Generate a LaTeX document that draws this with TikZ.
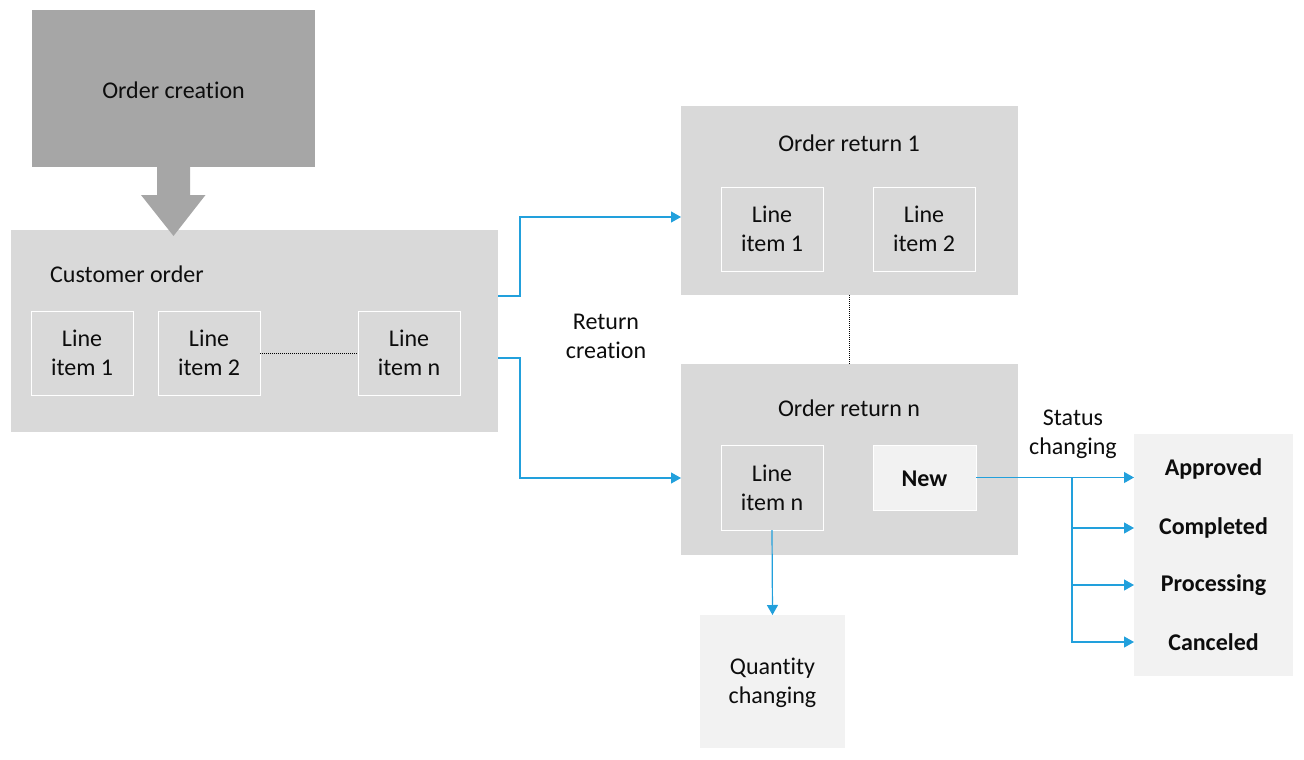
\documentclass[tikz,border=0pt]{standalone}
\usepackage{fontspec}
\setmainfont{Carlito}[Ligatures={NoCommon}]
\usetikzlibrary{arrows.meta,calc}
\definecolor{dgray}{HTML}{A6A6A6}
\definecolor{lgray}{HTML}{D9D9D9}
\definecolor{vlgray}{HTML}{F2F2F2}
\definecolor{cblue}{HTML}{22A0DC}
\definecolor{txt}{HTML}{0D0D0D}
\begin{document}
\begin{tikzpicture}[x=1pt,y=-1pt,
  font=\fontsize{24}{29}\selectfont, text=txt,
  box/.style={anchor=north west,inner sep=0pt,outer sep=0pt,align=center},
  item/.style={box,fill=lgray,draw=white,line width=1pt,minimum width=102,minimum height=84},
  lbl/.style={inner sep=0pt,align=center},
  blbl/.style={lbl,font=\fontsize{24}{29}\selectfont\bfseries},
  conn/.style={draw=cblue,line width=1.2pt,-{Triangle[length=10pt,width=11pt]}},
  dots/.style={draw=black,line width=0.7pt,dash pattern=on 1pt off 1pt}
]
\useasboundingbox (0,0) rectangle (1304,760);
% boxes
\node[box,fill=dgray,minimum width=283,minimum height=157] (oc) at (32,10) {};
\node[lbl] (oct) at (173.5,90) {Order creation};
\node[box,fill=lgray,minimum width=487,minimum height=202] (co) at (11,230) {};
\node[lbl,anchor=west] (cot) at (50,274) {Customer order};
\node[item] (i1) at (31,311) {Line\\item 1};
\node[item] (i2) at (158,311) {Line\\item 2};
\node[item] (in) at (358,311) {Line\\item n};

\node[box,fill=lgray,minimum width=337,minimum height=189] (or1) at (681,106) {};
\node[lbl] (or1t) at (849,143) {Order return 1};
\node[item] (r1a) at (721,187) {Line\\item 1};
\node[item] (r1b) at (873,187) {Line\\item 2};

\node[box,fill=lgray,minimum width=337,minimum height=191] (orn) at (681,364) {};
\node[lbl] (ornt) at (849,408) {Order return n};
\node[item,minimum height=85] (lin) at (721,445) {Line\\item n};
\node[box,fill=vlgray,draw=white,line width=1pt,minimum width=103,minimum height=65] (new) at (873,445) {};
\node[blbl] (newt) at (924.5,479) {New};

\node[box,fill=vlgray,minimum width=145,minimum height=133] (qc) at (700,615) {};
\node[lbl] (qct) at (772.5,683) {Quantity\\changing};

\node[box,fill=vlgray,minimum width=159,minimum height=242] (sb) at (1134,434) {};
\node[blbl] (ap) at (1213.5,469) {Approved};
\node[blbl] (cp) at (1213.5,528) {Completed};
\node[blbl] (pr) at (1213.5,585) {Processing};
\node[blbl] (ca) at (1213.5,642) {Canceled};

% labels
\node[lbl] (rc) at (606,336) {Return\\creation};
\node[lbl] (sc) at (1073,434) {Status\\changing};

% big arrow
\fill[dgray] ($(oc.south)+(-16.5,0)$) -- ++(0,28) -- ++(-16,0) -- ($(oc.south)+(0,69)$)
  -- ($(oc.south)+(32,28)$) -- ++(-15.5,0) -- ++(0,-28) -- cycle;

% dotted links
\draw[dots] (i2.east) -- (in.west);
\draw[dots] (or1.south) -- (orn.north);

% connectors
\draw[conn] ([yshift=35]co.east) -- ++(22,0) |- ([yshift=-16.5]or1.west);
\draw[conn] ([yshift=-27]co.east) -- ++(22,0) |- ([yshift=-18.5]orn.west);
\draw[conn] (lin.south) -- (qc.north);
\coordinate (br) at (1072,477.5);
\draw[conn] (new.east) -- (new.east -| sb.west);
\draw[conn] (br) |- (sb.west |- cp);
\draw[conn] (br) |- (sb.west |- pr);
\draw[conn] (br) |- (sb.west |- ca);
\end{tikzpicture}
\end{document}
